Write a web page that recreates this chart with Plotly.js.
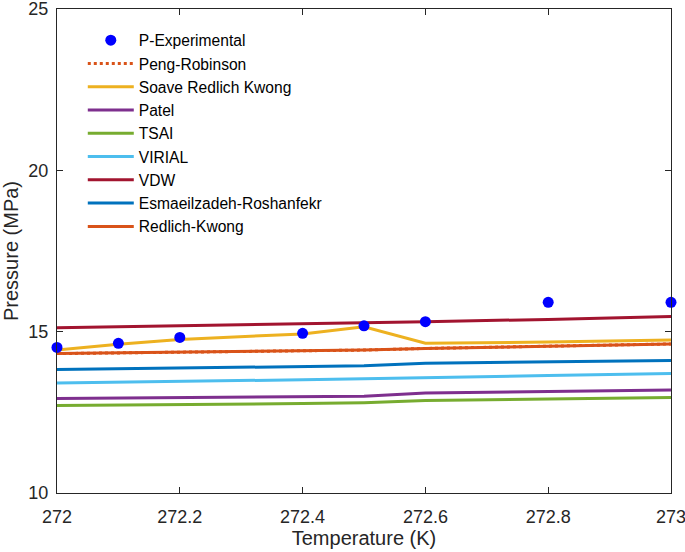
<!DOCTYPE html>
<html>
<head>
<meta charset="utf-8">
<script src="https://cdn.plot.ly/plotly-3.0.1.min.js"></script>
<style>html,body{margin:0;padding:0;background:#fff;}#chart{width:685px;height:552px;}</style>
</head>
<body>
<div id="chart"></div>
<script>
var temperature = [272, 272.1, 272.2, 272.4, 272.5, 272.6, 272.8, 273];
var pExperimental = [14.51, 14.64, 14.82, 14.95, 15.18, 15.31, 15.91, 15.91];
var pengRobinson = [14.32, 14.34, 14.37, 14.40, 14.43, 14.48, 14.55, 14.62];
var soaveRK = [14.43, 14.61, 14.76, 14.93, 15.15, 14.64, 14.68, 14.74];
var patel = [12.93, 12.94, 12.95, 12.98, 13.00, 13.10, 13.14, 13.19];
var tsai = [12.71, 12.72, 12.73, 12.77, 12.80, 12.87, 12.91, 12.96];
var virial = [13.41, 13.43, 13.46, 13.51, 13.54, 13.58, 13.64, 13.70];
var vdw = [15.12, 15.15, 15.18, 15.23, 15.26, 15.31, 15.38, 15.47];
var esmaeilzadeh = [13.83, 13.85, 13.88, 13.91, 13.94, 14.02, 14.06, 14.11];
var redlichKwong = [14.32, 14.34, 14.37, 14.40, 14.43, 14.48, 14.55, 14.62];

var xTicks = [272, 272.2, 272.4, 272.6, 272.8, 273];
var xTickText = ['272', '272.2', '272.4', '272.6', '272.8', '273'];
var yTicks = [10, 15, 20, 25];
var yTickText = ['10', '15', '20', '25'];

function lineTrace(name, y, color, dash) {
  return {x: temperature, y: y, name: name, type: 'scatter', mode: 'lines',
          line: {color: color, width: 3, dash: dash || 'solid'}};
}

var traces = [
  lineTrace('Peng-Robinson', pengRobinson, '#D95319', 'dot'),
  lineTrace('Soave Redlich Kwong', soaveRK, '#EDB120'),
  lineTrace('Patel', patel, '#7E2F8E'),
  lineTrace('TSAI', tsai, '#77AC30'),
  lineTrace('VIRIAL', virial, '#4DBEEE'),
  lineTrace('VDW', vdw, '#A2142F'),
  lineTrace('Esmaeilzadeh-Roshanfekr', esmaeilzadeh, '#0072BD'),
  lineTrace('Redlich-Kwong', redlichKwong, '#D95319'),
  {x: temperature, y: pExperimental, name: 'P-Experimental', type: 'scatter', mode: 'markers',
   marker: {color: '#0000FF', size: 11}, cliponaxis: false, legendrank: 1}
];
traces.forEach(function(t, i){ if (t.legendrank === undefined) t.legendrank = 10 + i; });

var font = {family: '"Liberation Sans", Arial, Helvetica, sans-serif', color: '#262626'};

var layout = {
  width: 685, height: 552,
  margin: {l: 57, r: 14, t: 9, b: 59},
  paper_bgcolor: '#fff', plot_bgcolor: '#fff',
  font: font,
  showlegend: true,
  legend: {x: 0.042, y: 0.97, xanchor: 'left', yanchor: 'top', bgcolor: 'rgba(0,0,0,0)',
           borderwidth: 0, font: {size: 15.6, color: '#000', family: font.family},
           tracegroupgap: 0, itemwidth: 46, traceorder: 'normal'},
  xaxis: {range: [272, 273], tickvals: xTicks, ticktext: xTickText, ticks: 'inside', ticklen: 6,
          tickcolor: '#262626', showline: true, linecolor: '#262626', linewidth: 1, mirror: 'ticks',
          showgrid: false, zeroline: false, tickfont: {size: 18}, ticklabeloverflow: 'allow',
          ticklabelstandoff: 7,
          title: {text: 'Temperature (K)', font: {size: 20}, standoff: 0}},
  yaxis: {range: [10, 25], tickvals: yTicks, ticktext: yTickText, ticks: 'inside', ticklen: 6,
          tickcolor: '#262626', showline: true, linecolor: '#262626', linewidth: 1, mirror: 'ticks',
          showgrid: false, zeroline: false, tickfont: {size: 18}, ticklabeloverflow: 'allow',
          ticklabelstandoff: 4,
          title: {text: 'Pressure (MPa)', font: {size: 20}, standoff: 4}}
};

Plotly.newPlot('chart', traces, layout, {displayModeBar: false, staticPlot: true});
</script>
</body>
</html>
